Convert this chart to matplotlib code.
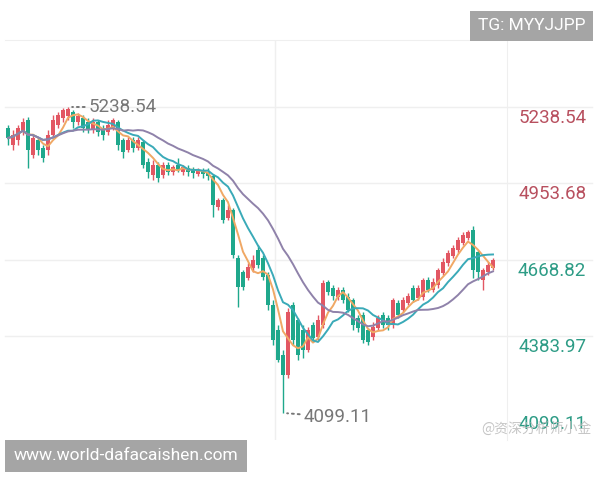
import numpy as np
import pandas as pd
import matplotlib
matplotlib.use("Agg")
import matplotlib.pyplot as plt
from matplotlib.transforms import offset_copy

# daily candles (index price)
opens = [5160, 5097, 5116, 5145, 5190, 5060, 5116, 5086, 5078, 5134,
         5172, 5198, 5205, 5220, 5183, 5198, 5183, 5153, 5183, 5160,
         5145, 5160, 5183, 5116, 5078, 5116, 5086, 5108, 5034, 4985,
         5023, 4985, 5023, 4997, 5023, 4997, 5011, 5004, 4989, 5004,
         4997, 4982, 4866, 4892, 4825, 4855, 4676, 4624, 4602, 4639,
         4706, 4676, 4613, 4501, 4408, 4315, 4241, 4501, 4445, 4408,
         4334, 4427, 4382, 4427, 4587, 4565, 4531, 4557, 4531, 4520,
         4453, 4464, 4408, 4382, 4416, 4464, 4453, 4427, 4509, 4483,
         4509, 4565, 4527, 4531, 4594, 4557, 4576, 4620, 4658, 4684,
         4706, 4732, 4751, 4780, 4699, 4594, 4624, 4639]
highs = [5172, 5153, 5172, 5198, 5201, 5134, 5127, 5097, 5153, 5209,
         5220, 5235, 5238.54, 5227, 5216, 5209, 5198, 5198, 5190, 5172,
         5190, 5198, 5190, 5123, 5127, 5127, 5127, 5116, 5049, 5041,
         5034, 5034, 5034, 5023, 5049, 5023, 5023, 5015, 5011, 5011,
         5011, 4989, 4900, 4900, 4874, 4862, 4688, 4632, 4658, 4688,
         4725, 4688, 4624, 4520, 4427, 4334, 4490, 4513, 4453, 4427,
         4419, 4438, 4464, 4594, 4594, 4576, 4568, 4568, 4546, 4527,
         4464, 4475, 4416, 4438, 4464, 4475, 4464, 4527, 4520, 4531,
         4546, 4576, 4576, 4602, 4606, 4602, 4639, 4676, 4706, 4725,
         4755, 4773, 4780, 4796, 4706, 4639, 4661, 4676]
lows = [5097, 5078, 5097, 5134, 5011, 5049, 5060, 5034, 5060, 5123,
        5160, 5183, 5190, 5160, 5172, 5145, 5142, 5142, 5131, 5116,
        5134, 5153, 5078, 5049, 5071, 5071, 5078, 5011, 4974, 4967,
        4959, 4974, 4985, 4985, 4997, 4985, 4982, 4974, 4982, 4974,
        4967, 4829, 4855, 4807, 4818, 4676, 4494, 4557, 4594, 4624,
        4639, 4594, 4483, 4352, 4289, 4099.11, 4230, 4352, 4297, 4304,
        4326, 4364, 4371, 4416, 4539, 4520, 4520, 4509, 4475, 4408,
        4401, 4360, 4352, 4371, 4408, 4416, 4408, 4416, 4453, 4475,
        4501, 4513, 4520, 4520, 4550, 4550, 4565, 4613, 4647, 4676,
        4695, 4725, 4743, 4602, 4594, 4557, 4613, 4632]
closes = [5123, 5134, 5160, 5183, 5078, 5123, 5078, 5049, 5134, 5190,
          5209, 5227, 5231, 5183, 5205, 5160, 5153, 5183, 5145, 5134,
          5172, 5190, 5097, 5071, 5116, 5086, 5116, 5023, 4997, 5023,
          4974, 5023, 4997, 5015, 5004, 5015, 4997, 4993, 5004, 4989,
          4982, 4874, 4892, 4818, 4855, 4688, 4568, 4568, 4643, 4669,
          4650, 4606, 4501, 4371, 4297, 4241, 4476, 4371, 4315, 4334,
          4408, 4378, 4445, 4583, 4550, 4535, 4557, 4520, 4483, 4427,
          4416, 4371, 4364, 4419, 4453, 4427, 4427, 4520, 4464, 4520,
          4535, 4520, 4565, 4594, 4557, 4587, 4632, 4661, 4695, 4714,
          4743, 4762, 4773, 4632, 4624, 4632, 4650, 4669]

axis_levels = [5238.54, 4953.68, 4668.82, 4383.97, 4099.11]
level_colors = ["#b8505f", "#b8505f", "#2e9c86", "#2e9c86", "#2e9c86"]

up_color = "#e25763"
down_color = "#1fa88c"
ma_specs = [(5, "#f0a865"), (10, "#3aaab8"), (20, "#8f82aa")]

fig = plt.figure(figsize=(6, 4.8), dpi=100)
ax = fig.add_axes([5 / 600, 40 / 480, 502 / 600, 400 / 480])

idx = np.arange(len(closes))
for i in idx:
    o, h, l, c = opens[i], highs[i], lows[i], closes[i]
    col = up_color if c >= o else down_color
    ax.vlines(i, l, h, color=col, lw=1, zorder=3)
    ax.bar(i, max(abs(c - o), 2), bottom=min(o, c), width=0.7, color=col, zorder=3)

close_s = pd.Series(closes, dtype=float)
for n, col in ma_specs:
    ax.plot(idx, close_s.rolling(n, min_periods=1).mean(), color=col, lw=1.4, zorder=4)

ax.set_xlim(-0.6, 99.8)
ax.set_ylim(3998.5, 5488)
ax.set_xticks([])
ax.set_yticks([])
for s in ["left", "bottom"]:
    ax.spines[s].set_visible(False)
ax.spines["top"].set_color("#efefef")
ax.spines["right"].set_color("#efefef")

for lv in axis_levels[:-1]:
    ax.axhline(lv, xmin=0, xmax=1.17, color="#efefef", lw=1, zorder=1, clip_on=False)
ax.axvline(53.4, color="#efefef", lw=1, zorder=1)

font = "Roboto"
# right price column, labels sit just under each grid level
lab_tr = offset_copy(ax.get_yaxis_transform(), fig=fig, x=0, y=-11, units="dots")
for lv, col in zip(axis_levels, level_colors):
    ax.text(1.158, lv, f"{lv:.2f}", transform=lab_tr, ha="right", va="center",
            fontsize=13.5, color=col, family=font, clip_on=False)

# high / low markers
hi = int(np.argmax(highs))
lo = int(np.argmin(lows))
for k, val, dy in [(hi, highs[hi], 0), (lo, lows[lo], -3)]:
    ax.annotate(f"{val:.2f}", xy=(k, val), xytext=(15, dy), textcoords="offset points",
                ha="left", va="center", fontsize=13.5, color="#777777", family=font,
                arrowprops=dict(arrowstyle="-", linestyle=(0, (1, 2)), color="#777777",
                                lw=1.4, shrinkA=1, shrinkB=3))

# watermarks
fig.text(0.975, 0.946, "TG: MYYJJPP", ha="right", va="center", fontsize=12.5,
         color="white", family=font,
         bbox=dict(boxstyle="square,pad=0.45", fc="#a5a5a5", ec="none"))
fig.text(0.022, 0.05, "www.world-dafacaishen.com", ha="left", va="center",
         fontsize=12.5, color="white", family=font,
         bbox=dict(boxstyle="square,pad=0.5", fc="#a5a5a5", ec="none"))
fig.text(0.985, 0.108, "@资深分析师小金", ha="right", va="center", fontsize=10,
         color="#bbbbbb", alpha=0.85, family=["Noto Sans CJK SC", "DejaVu Sans"])

fig.savefig("out.png", dpi=100, facecolor="white")
